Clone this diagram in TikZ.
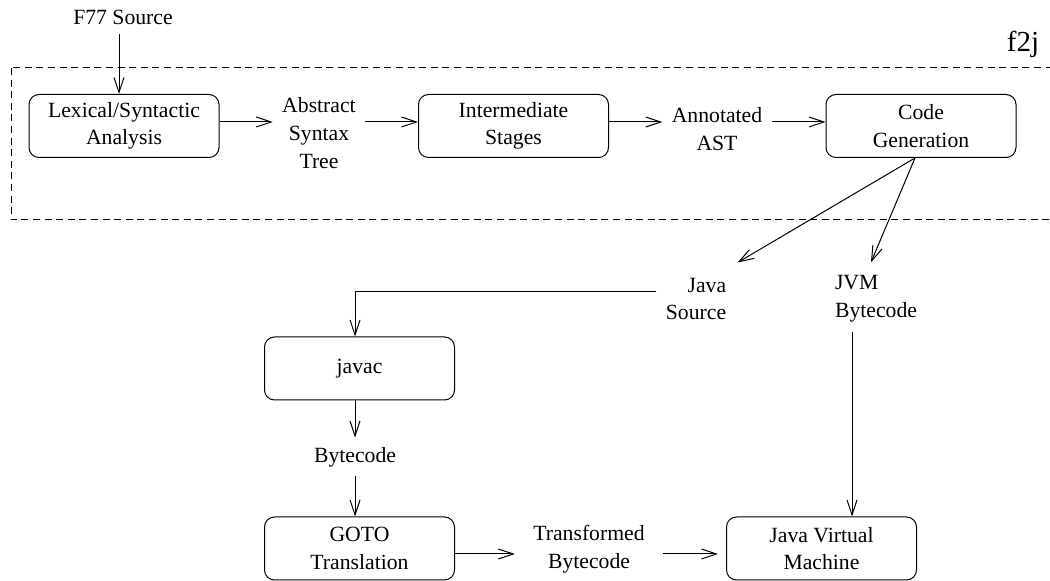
\documentclass[tikz,border=0pt]{standalone}
\usepackage{fontspec}
\setmainfont{Liberation Serif}
\usetikzlibrary{arrows.meta}
\tikzset{
  stage/.style={draw,rounded corners=5pt,minimum width=95pt,minimum height=31.5pt,align=center,inner xsep=2pt,inner ysep=1pt},
  lowtext/.style={execute at begin node={\rule{0pt}{12pt}}},
  data/.style={align=center,inner sep=4.5pt},
}
\begin{document}
\begin{tikzpicture}[x=0.5pt,y=-0.5pt,line width=0.5pt,>={Straight Barb[length=7.5pt,width=5pt]},
  every node/.style={font=\fontsize{10.85}{13.8}\selectfont}]
\useasboundingbox (0,0) rectangle (1050,581);
% f2j part
\draw[dash pattern=on 3.5pt off 2.3pt] (11,68) rectangle (1070,220);
\node[font=\fontsize{14.5}{16}\selectfont,inner sep=0pt] (f2j) at (1023,44) {f2j};
\node [data] (f77) at (123,17) {F77 Source};
\node [stage,lowtext] (lex) at (124,126) {Lexical/Syntactic\\Analysis};
\node [data] (ast) at (319,133) {Abstract\\Syntax\\Tree};
\node [stage,lowtext] (inter) at (513.5,126) {Intermediate\\Stages};
\node [data] (annot) at (717,129) {Annotated\\AST};
\node [stage,lowtext] (codegen) at (921,126) {Code\\Generation};
% output of f2j
\node [data,align=right] (javasrc) at (696,299) {Java\\Source};
\node [data,align=left] (jvmbc) at (876,299) {JVM\\Bytecode};
\node [stage] (javac) at (359.5,368.5) {javac};
\node [data] (bc) at (355,457) {Bytecode};
\node [stage,lowtext] (goto) at (359.5,548.5) {GOTO\\Translation};
\node [data,inner xsep=9pt] (transf) at (589,549) {Transformed\\Bytecode};
\node [stage,lowtext] (jvm) at (821.5,548.5) {Java Virtual\\Machine};
% connectors
\draw[->] ([xshift=-2pt]f77.south) -- ([xshift=-2pt]f77.south |- lex.north);
\draw[->] ([yshift=2pt]lex.east) -- ([yshift=2pt]lex.east -| ast.west);
\draw[->] ([yshift=2pt]inter.west -| ast.east) -- ([yshift=2pt]inter.west);
\draw[->] ([yshift=2pt]inter.east) -- ([yshift=2pt]inter.east -| annot.west);
\draw[->] ([yshift=2pt]codegen.west -| annot.east) -- ([yshift=2pt]codegen.west);
\draw[->] ([xshift=-3pt]codegen.south) -- ([xshift=1pt,yshift=3pt]javasrc.north east);
\draw[->] ([xshift=-3pt]codegen.south) -- ([xshift=-2.5pt,yshift=2pt]jvmbc.north);
\draw[->] ([yshift=3.5pt]javasrc.west) -| ([xshift=-2.25pt]javac.north);
\draw[->] (bc |- javac.south) -- (bc);
\draw[->] (bc) -- (bc |- goto.north);
\coordinate (bcdrop) at ([xshift=-12pt]jvmbc.south);
\draw[->] (bcdrop) -- (bcdrop |- jvm.north);
\draw[->] ([yshift=-2.75pt]goto.east) -- ([yshift=-2.75pt]goto.east -| transf.west);
\draw[->,shorten >=4pt] ([yshift=-2.75pt]jvm.west -| transf.east) -- ([yshift=-2.75pt]jvm.west);
\end{tikzpicture}
\end{document}
